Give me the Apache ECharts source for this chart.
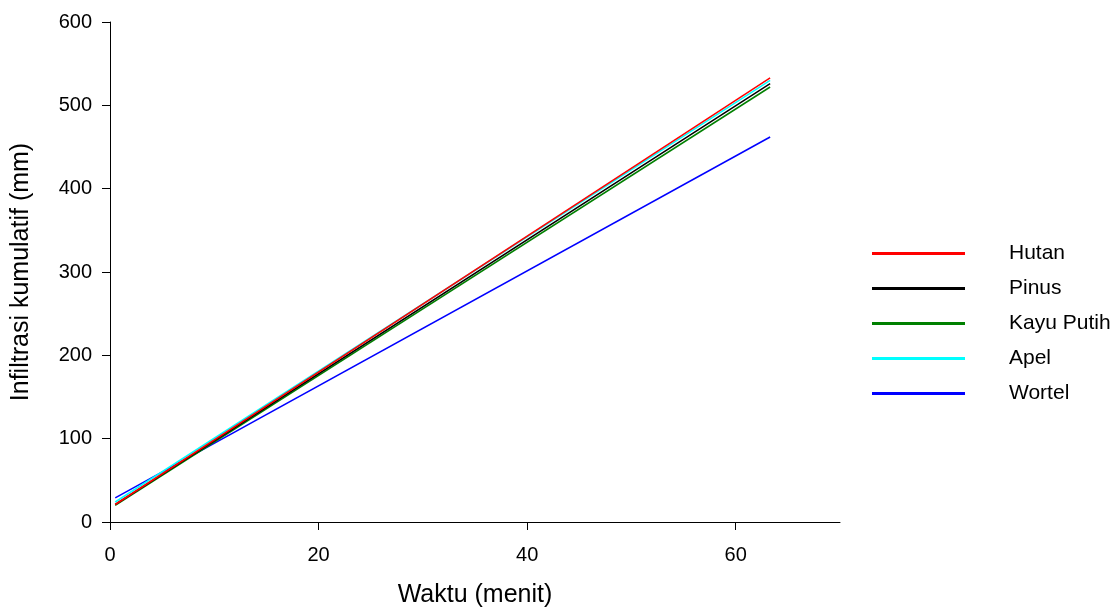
<!DOCTYPE html>
<html lang="en">
<head>
    <meta charset="UTF-8">
    <script src="https://cdn.jsdelivr.net/npm/echarts@6/dist/echarts.min.js"></script>
    <title>Infiltrasi kumulatif</title>
    <style>
        html, body { margin: 0; padding: 0; background: #fff; }
        #main { width: 1120px; height: 613px; }
    </style>
</head>
<body>
<div id="main"></div>

<script>
    // waktu awal dan akhir tiap garis (menit)
    var waktu = [0.5, 63.3]
    var names = ['Hutan', 'Pinus', 'Kayu Putih', 'Apel', 'Wortel']
    var hutan = [21, 533]
    var pinus = [21, 526]
    var kayuPutih = [20, 522]
    var apel = [24, 530]
    var wortel = [29, 462]
    var colors = ['#ff0000', '#000000', '#008000', '#00ffff', '#0000ff']

    var xTicks = [0, 20, 40, 60]
    var yTicks = [0, 100, 200, 300, 400, 500, 600]

    var font = 'Liberation Sans, Arial, sans-serif'
    var allData = [hutan, pinus, kayuPutih, apel, wortel]

    function pairs(vals) {
        var out = []
        for (var i = 0; i < waktu.length; i++) {
            out.push([waktu[i], vals[i]])
        }
        return out
    }

    var series = []
    // wortel digambar dulu, hutan paling atas
    for (var i = names.length - 1; i >= 0; i--) {
        series.push({
            name: names[i],
            type: 'line',
            data: pairs(allData[i]),
            showSymbol: false,
            symbol: 'none',
            lineStyle: { color: colors[i], width: 1.5 },
            itemStyle: { color: colors[i] },
            animation: false
        })
    }

    var myChart = echarts.init(document.getElementById('main'))

    var option = {
        backgroundColor: '#ffffff',
        grid: {
            left: 110,
            right: 280,
            top: 22,
            bottom: 90
        },
        legend: {
            data: names,
            orient: 'vertical',
            left: 867,
            top: 238,
            itemWidth: 93,
            itemHeight: 3,
            itemGap: 14,
            icon: 'rect',
            textStyle: {
                fontFamily: font,
                fontSize: 21,
                color: '#000',
                padding: [0, 0, 0, 39],
                lineHeight: 20
            }
        },
        xAxis: {
            type: 'value',
            min: 0,
            max: 70,
            interval: 20,
            name: 'Waktu (menit)',
            nameLocation: 'middle',
            nameGap: 61,
            nameTextStyle: { fontFamily: font, fontSize: 25, color: '#000' },
            axisLine: { onZero: false, lineStyle: { color: '#000', width: 1 } },
            axisTick: { show: true, inside: false, length: 8, lineStyle: { color: '#000' } },
            axisLabel: {
                fontFamily: font,
                fontSize: 20,
                color: '#000',
                margin: 23,
                showMaxLabel: false,
                formatter: function (v) { return xTicks.indexOf(v) >= 0 ? v : '' }
            },
            splitLine: { show: false }
        },
        yAxis: {
            type: 'value',
            min: 0,
            max: 600,
            interval: 100,
            name: 'Infiltrasi kumulatif (mm)',
            nameLocation: 'middle',
            nameGap: 76,
            nameTextStyle: { fontFamily: font, fontSize: 25, color: '#000' },
            axisLine: { show: true, lineStyle: { color: '#000', width: 1 } },
            axisTick: { show: true, inside: false, length: 8, lineStyle: { color: '#000' } },
            axisLabel: {
                fontFamily: font,
                fontSize: 20,
                color: '#000',
                margin: 18,
                formatter: function (v) { return yTicks.indexOf(v) >= 0 ? v : '' }
            },
            splitLine: { show: false }
        },
        series: series
    }

    myChart.setOption(option)
</script>
</body>
</html>
